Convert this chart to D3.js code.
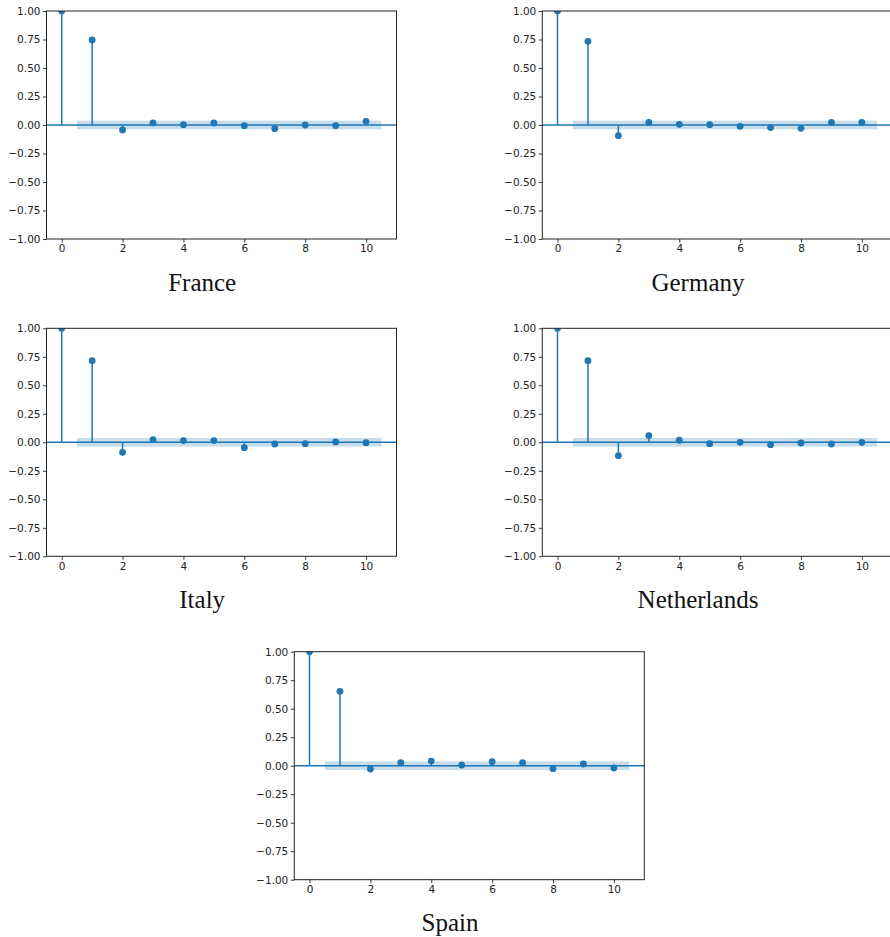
<!DOCTYPE html>
<html>
<head>
<meta charset="utf-8">
<script src="https://cdn.jsdelivr.net/npm/d3@7"></script>
<style>
  body { margin: 0; background: #fff; }
  .axis text { font-family: "DejaVu Sans", sans-serif; font-size: 10.5px; fill: #222; }
  .axis line { stroke: #222; stroke-width: 0.9; }
  .title { font-family: "Liberation Serif", serif; font-size: 25px; fill: #111; }
</style>
</head>
<body>
<svg id="chartSVG"></svg>
<script>
// data
let countries = ['France', 'Germany', 'Italy', 'Netherlands', 'Spain'];
let lags = [0, 1, 2, 3, 4, 5, 6, 7, 8, 9, 10];

let acfFrance      = [1.0, 0.746, -0.044, 0.018, 0.003, 0.018, -0.006, -0.032, 0.000, -0.006, 0.032];
let acfGermany     = [1.0, 0.734, -0.094, 0.023, 0.006, 0.003, -0.012, -0.023, -0.029, 0.023, 0.023];
let acfItaly       = [1.0, 0.716, -0.088, 0.023, 0.015, 0.015, -0.047, -0.015, -0.012, 0.003, -0.003];
let acfNetherlands = [1.0, 0.716, -0.117, 0.059, 0.018, -0.012, 0.000, -0.021, -0.006, -0.015, 0.000];
let acfSpain       = [1.0, 0.652, -0.029, 0.026, 0.041, 0.006, 0.035, 0.026, -0.026, 0.015, -0.020];
let acfAll = [acfFrance, acfGermany, acfItaly, acfNetherlands, acfSpain];

// half width of the shaded confidence band
let confBand = [0.038, 0.038, 0.038, 0.038, 0.038];

let yTicks = [-1, -0.75, -0.5, -0.25, 0, 0.25, 0.5, 0.75, 1];
let xTicks = [0, 2, 4, 6, 8, 10];

let widthSVG = 890;
let heightSVG = 937;

// top-left corners of each axes box
let panelPos = [[46.5, 11], [542.3, 11], [46.5, 328.3], [542.3, 328.3], [294.3, 651.7]];
let axW = 350, axH = 228;

let blue = '#1f77b4';

let SVG = d3.select('svg#chartSVG')
            .attr('width', widthSVG)
            .attr('height', heightSVG);

let x = d3.scaleLinear().domain([-0.5, 11]).range([0, axW]);
let y = d3.scaleLinear().domain([-1, 1]).range([axH, 0]);

countries.forEach((name, i) => {
  let acf = acfAll[i];
  let g = SVG.append('g')
             .attr('transform', `translate(${panelPos[i][0]}, ${panelPos[i][1]})`);

  g.append('clipPath')
   .attr('id', 'clip' + i)
   .append('rect')
   .attr('width', axW)
   .attr('height', axH);

  let plot = g.append('g').attr('clip-path', `url(#clip${i})`);

  // confidence band
  plot.append('rect')
      .attr('x', x(0.5))
      .attr('width', x(10.5) - x(0.5))
      .attr('y', y(confBand[i]))
      .attr('height', y(-confBand[i]) - y(confBand[i]))
      .style('fill', blue)
      .style('fill-opacity', 0.25);

  // zero line
  plot.append('line')
      .attr('x1', 0).attr('x2', axW)
      .attr('y1', y(0)).attr('y2', y(0))
      .style('stroke', blue)
      .style('stroke-width', 1.5);

  // stems
  plot.selectAll('line.stem')
      .data(lags)
      .enter()
      .append('line')
      .classed('stem', true)
      .attr('x1', d => x(d)).attr('x2', d => x(d))
      .attr('y1', y(0))
      .attr('y2', d => y(acf[d]))
      .style('stroke', blue)
      .style('stroke-width', 1.5);

  plot.selectAll('circle')
      .data(lags)
      .enter()
      .append('circle')
      .attr('cx', d => x(d))
      .attr('cy', d => y(acf[d]))
      .attr('r', 3.4)
      .style('fill', blue);

  // axes
  g.append('g')
   .attr('class', 'axis')
   .call(d3.axisLeft(y).tickValues(yTicks).tickFormat(d3.format('.2f')).tickSize(3.5).tickPadding(2.5))
   .call(a => a.select('.domain').remove());

  g.append('g')
   .attr('class', 'axis')
   .attr('transform', `translate(0, ${axH})`)
   .call(d3.axisBottom(x).tickValues(xTicks).tickFormat(d3.format('d')).tickSize(3.5).tickPadding(2.5))
   .call(a => a.select('.domain').remove());

  // frame
  g.append('rect')
   .attr('width', axW)
   .attr('height', axH)
   .style('fill', 'none')
   .style('stroke', '#222')
   .style('stroke-width', 1);

  g.append('text')
   .attr('class', 'title')
   .attr('x', 155.7)
   .attr('y', axH + 51.5)
   .style('text-anchor', 'middle')
   .text(name);
});
</script>
</body>
</html>
